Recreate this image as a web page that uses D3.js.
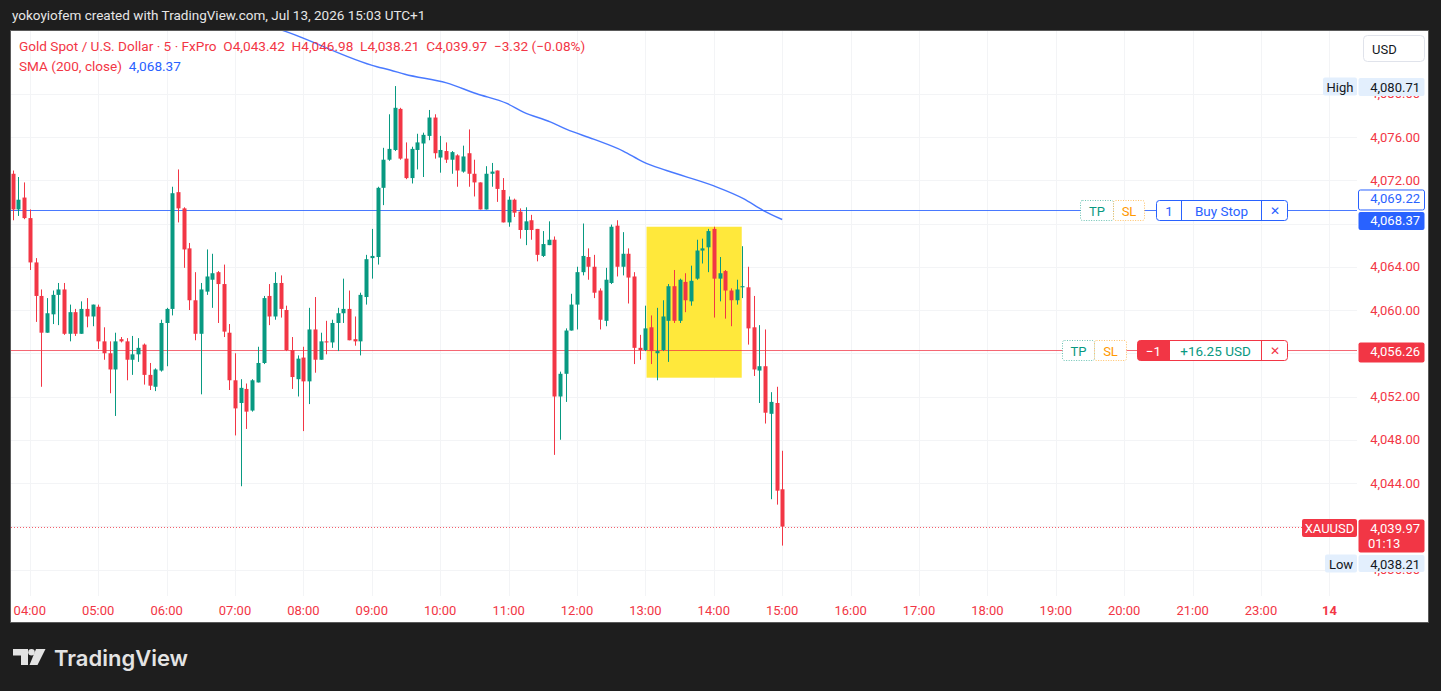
<!DOCTYPE html>
<html>
<head>
<meta charset="utf-8">
<script src="https://cdn.jsdelivr.net/npm/d3@7"></script>
<style>
  html, body { margin: 0; padding: 0; background: #1e1e1e; }
  svg { display: block; }
  text { font-family: Roboto, "Noto Sans", sans-serif; }
</style>
</head>
<body>
<svg id="chart" width="1441" height="691"></svg>
<script>
// XAUUSD 5 min bars, 03:45 -> 15:00 (one entry per bar)
const opens = [4072.6,4069.3,4070.4,4068.5,4064.4,4061.3,4057.9,4059.6,4061.4,4061.9,4057.8,4059.8,4057.8,4060.1,4059.4,4060.3,4057.1,4056.0,4054.5,4057.3,
  4057.1,4055.4,4055.9,4056.8,4054.0,4052.9,4054.4,4058.8,4060.1,4070.9,4069.4,4065.7,4060.9,4057.8,4061.7,4062.8,4063.5,4062.4,4057.9,4053.5,
  4051.4,4052.7,4050.7,4053.3,4055.1,4061.3,4059.4,4062.5,4060.0,4056.3,4053.6,4055.6,4053.4,4058.2,4055.4,4057.1,4057.0,4058.8,4059.7,4060.1,
  4057.3,4057.1,4061.2,4064.8,4064.9,4071.3,4073.9,4074.8,4078.6,4074.0,4072.2,4074.8,4075.4,4076.1,4077.8,4074.1,4074.7,4073.9,4074.3,4072.8,
  4074.5,4072.6,4071.8,4069.3,4072.6,4072.9,4071.1,4068.1,4070.2,4069.1,4067.4,4068.3,4067.5,4065.0,4066.0,4066.5,4052.0,4054.1,4058.1,4060.5,
  4063.5,4064.9,4064.0,4061.8,4059.0,4062.5,4067.8,4064.0,4065.2,4063.1,4056.5,4056.3,4058.4,4056.0,4056.3,4059.0,4062.2,4059.0,4062.6,4060.8,
  4062.9,4065.5,4065.8,4067.5,4062.9,4063.6,4061.8,4060.9,4062.1,4062.1,4058.4,4054.4,4054.8,4050.4,4051.4,4043.42];
const highs = [4072.9,4072.3,4071.8,4069.3,4064.8,4061.9,4061.1,4061.8,4062.5,4062.5,4060.5,4060.1,4060.8,4061.1,4060.5,4060.5,4058.4,4057.1,4057.9,4057.5,
  4057.4,4057.6,4057.4,4056.9,4055.1,4054.6,4059.1,4060.2,4071.4,4073.0,4069.5,4066.2,4063.5,4062.5,4065.6,4065.2,4063.6,4064.2,4058.7,4056.0,
  4053.6,4053.2,4053.6,4056.6,4061.3,4062.4,4063.5,4063.2,4060.4,4057.5,4055.8,4056.6,4060.2,4061.2,4057.9,4059.0,4059.1,4060.2,4062.9,4061.8,
  4059.4,4061.6,4065.1,4067.5,4071.4,4075.0,4078.1,4080.71,4078.7,4075.5,4075.1,4076.3,4076.4,4078.5,4078.1,4076.1,4075.5,4074.7,4074.4,4075.2,
  4076.7,4073.9,4071.8,4073.3,4073.6,4072.9,4072.2,4070.5,4070.3,4069.4,4069.5,4068.8,4067.5,4067.3,4068.2,4066.8,4054.3,4058.3,4061.5,4064.0,
  4068.0,4065.7,4065.1,4062.0,4063.9,4067.9,4068.3,4067.2,4065.7,4063.5,4057.7,4060.4,4059.5,4060.2,4060.9,4062.4,4063.7,4062.9,4063.4,4064.1,
  4066.5,4066.6,4067.5,4067.7,4064.9,4063.7,4062.0,4062.8,4065.9,4064.0,4061.3,4058.6,4058.2,4052.4,4052.9,4046.98];
const lows = [4068.3,4068.7,4068.4,4063.7,4058.9,4052.9,4057.9,4058.7,4058.6,4057.7,4057.1,4057.6,4057.8,4058.4,4058.5,4056.4,4055.4,4052.3,4050.2,4057.0,
  4053.5,4054.0,4055.2,4053.1,4052.6,4052.5,4054.3,4054.8,4059.5,4068.1,4063.9,4060.0,4057.2,4052.2,4061.4,4060.2,4058.8,4057.5,4052.6,4048.4,
  4043.7,4049.0,4050.6,4053.3,4055.0,4058.6,4059.1,4059.3,4056.2,4052.7,4052.0,4048.8,4051.3,4054.2,4055.4,4055.9,4056.5,4056.2,4058.8,4057.2,
  4056.7,4055.8,4060.5,4062.9,4064.2,4069.7,4073.8,4074.7,4073.9,4072.1,4071.7,4073.0,4072.3,4075.7,4074.0,4072.7,4073.6,4072.6,4071.4,4072.7,
  4071.4,4070.5,4069.3,4069.3,4071.4,4070.0,4068.1,4067.7,4068.6,4066.6,4066.0,4066.5,4064.5,4064.9,4066.0,4046.6,4048.0,4051.5,4058.1,4058.2,
  4063.2,4062.8,4061.1,4058.2,4058.5,4062.4,4063.1,4063.2,4060.6,4055.0,4055.4,4056.2,4055.0,4053.5,4056.2,4055.2,4058.8,4058.8,4059.8,4060.4,
  4062.8,4064.3,4063.5,4059.3,4060.8,4059.2,4058.5,4060.5,4061.1,4056.8,4053.9,4051.4,4049.5,4042.5,4042.0,4038.21];
const closes = [4069.3,4070.2,4068.5,4064.4,4061.3,4057.9,4059.7,4061.4,4061.9,4057.8,4059.8,4057.8,4060.1,4059.4,4060.5,4057.1,4056.0,4054.5,4057.1,4057.1,
  4055.4,4055.9,4056.5,4054.0,4053.0,4054.5,4058.8,4060.1,4070.8,4069.4,4065.6,4060.9,4057.8,4061.9,4063.1,4063.4,4062.4,4058.0,4053.5,4050.9,
  4052.8,4050.6,4053.5,4055.1,4061.1,4059.4,4062.5,4060.1,4056.3,4053.8,4055.5,4053.4,4058.2,4055.4,4057.1,4057.0,4058.8,4059.7,4060.1,4057.2,
  4057.1,4061.4,4064.7,4065.0,4071.3,4073.9,4074.9,4078.7,4074.0,4072.2,4074.9,4075.5,4076.2,4077.8,4074.5,4074.8,4073.9,4074.6,4072.9,4074.2,
  4072.6,4071.8,4069.3,4072.6,4072.8,4071.2,4068.1,4070.2,4069.0,4067.4,4068.2,4067.4,4065.1,4066.1,4066.5,4052.0,4054.1,4058.1,4060.5,4063.5,
  4065.0,4064.0,4061.6,4059.1,4062.8,4067.7,4064.0,4065.2,4063.0,4056.5,4056.3,4058.3,4056.2,4056.2,4059.4,4062.2,4059.0,4062.8,4060.9,4062.7,
  4065.5,4065.7,4067.3,4062.9,4063.4,4061.8,4060.9,4061.9,4062.2,4058.3,4054.5,4054.8,4050.5,4051.5,4043.29,4039.97];

// SMA(200, close) at some bar positions
const smaBars = [40, 47.1, 63.9, 66.2, 68.8, 76.1, 81.4, 86.7, 89.6, 94.3, 97.2, 101.9, 107.1, 110.6, 114.7, 122.9, 128.2, 131.7, 135];
const smaValues = [4087.0, 4085.9, 4082.5, 4082.2, 4081.8, 4081.0, 4080.0, 4079.1, 4078.3, 4077.4, 4076.7, 4075.8, 4074.7, 4073.7, 4072.9, 4071.5, 4070.3, 4069.2, 4068.37];

const timeLabels = ["04:00","05:00","06:00","07:00","08:00","09:00","10:00","11:00","12:00","13:00","14:00",
  "15:00","16:00","17:00","18:00","19:00","20:00","21:00","23:00","14"];
const priceTicks = [4036, 4040, 4044, 4048, 4052, 4056, 4060, 4064, 4068, 4072, 4076, 4080];

const buyStopPrice = 4069.22;
const positionPrice = 4056.26;
const positionPnl = "+16.25 USD";
const sessionHigh = 4080.71;
const sessionLow = 4038.21;
const lastPrice = 4039.97;
const countdown = "01:13";
// highlighted zone: bars and prices
const zoneBars = [111.2, 127.9];
const zonePrices = [4053.74, 4067.7];

const RED = "#f23645", GREEN = "#089981", BLUE = "#2962ff";
const fmt = d3.format(",.2f");

var svg = d3.select("#chart");
var W = 1441, H = 691;
var panel = {left: 11, top: 31, right: 1429, bottom: 623};
var plotRight = 1357, plotBottom = 596;

// x is bar index, y is price
let x = d3.scaleLinear().domain([0, 135]).range([12.7, 782.2]);
let y = d3.scaleLinear().domain([4036, 4076]).range([569.5, 137]);

// top strip
svg.append("rect").attr("width", W).attr("height", H).attr("fill", "#1e1e1e");
svg.append("text")
    .attr("x", 12).attr("y", 20)
    .attr("fill", "#e6e6e6").style("font-size", "13.5px")
    .text("yokoyiofem created with TradingView.com, Jul 13, 2026 15:03 UTC+1");

// white chart panel
svg.append("rect")
    .attr("x", panel.left - 0.5).attr("y", panel.top - 0.5)
    .attr("width", panel.right - panel.left).attr("height", panel.bottom - panel.top)
    .attr("fill", "#fff").attr("stroke", "#5a5a5a");

svg.append("defs").append("clipPath").attr("id", "clip")
    .append("rect")
    .attr("x", panel.left).attr("y", panel.top)
    .attr("width", plotRight - panel.left).attr("height", plotBottom - panel.top);

let plot = svg.append("g").attr("clip-path", "url(#clip)");

// faint grid
plot.selectAll(".hgrid").data(priceTicks).enter().append("line")
    .attr("x1", panel.left).attr("x2", plotRight)
    .attr("y1", d => Math.round(y(d)) + 0.5).attr("y2", d => Math.round(y(d)) + 0.5)
    .attr("stroke", "#f3f4f6");
plot.selectAll(".vgrid").data(timeLabels).enter().append("line")
    .attr("x1", (d, i) => Math.round(x(3 + 12 * i)) + 0.5).attr("x2", (d, i) => Math.round(x(3 + 12 * i)) + 0.5)
    .attr("y1", panel.top).attr("y2", plotBottom)
    .attr("stroke", "#f3f4f6");

// yellow highlight box
plot.append("rect")
    .attr("x", x(zoneBars[0])).attr("y", y(zonePrices[1]))
    .attr("width", x(zoneBars[1]) - x(zoneBars[0]))
    .attr("height", y(zonePrices[0]) - y(zonePrices[1]))
    .attr("fill", "#ffe83b");

// order / position lines
plot.append("line")
    .attr("x1", panel.left).attr("x2", plotRight)
    .attr("y1", Math.round(y(buyStopPrice)) + 0.5).attr("y2", Math.round(y(buyStopPrice)) + 0.5)
    .attr("stroke", BLUE).attr("stroke-opacity", 0.85);
plot.append("line")
    .attr("x1", panel.left).attr("x2", plotRight)
    .attr("y1", Math.round(y(positionPrice)) + 0.5).attr("y2", Math.round(y(positionPrice)) + 0.5)
    .attr("stroke", RED).attr("stroke-opacity", 0.75);
plot.append("line")
    .attr("x1", panel.left).attr("x2", 1302)
    .attr("y1", Math.round(y(lastPrice)) + 0.5).attr("y2", Math.round(y(lastPrice)) + 0.5)
    .attr("stroke", RED).attr("stroke-dasharray", "1,2").attr("stroke-opacity", 0.8);

// candles
let bars = d3.range(opens.length);
let candle = plot.selectAll(".candle").data(bars).enter().append("g")
    .attr("fill", i => closes[i] >= opens[i] ? GREEN : RED)
    .attr("stroke", i => closes[i] >= opens[i] ? GREEN : RED);
candle.append("line")
    .attr("x1", i => Math.round(x(i)) + 0.5).attr("x2", i => Math.round(x(i)) + 0.5)
    .attr("y1", i => y(highs[i])).attr("y2", i => y(lows[i]))
    .attr("stroke-width", 1);
candle.append("rect")
    .attr("x", i => Math.round(x(i)) - 1.5)
    .attr("y", i => y(Math.max(opens[i], closes[i])))
    .attr("width", 4)
    .attr("height", i => Math.max(1, Math.abs(y(opens[i]) - y(closes[i]))))
    .attr("stroke", "none");

// SMA line
let smaLine = d3.line().x(d => x(d[0])).y(d => y(d[1])).curve(d3.curveMonotoneX);
plot.append("path")
    .datum(smaBars.map((b, i) => [b, smaValues[i]]))
    .attr("d", smaLine)
    .attr("fill", "none").attr("stroke", BLUE).attr("stroke-width", 1.4).attr("stroke-opacity", 0.85);

// legend
let legend = svg.append("g").style("font-size", "13.6px");
legend.append("text").attr("x", 19).attr("y", 51).attr("fill", RED)
    .attr("xml:space", "preserve")
    .text("Gold Spot / U.S. Dollar \u00b7 5 \u00b7 FxPro  O" + fmt(opens[135]) + "  H" + fmt(highs[135]) +
        "  L" + fmt(lows[135]) + "  C" + fmt(closes[135]) + "  \u22123.32 (\u22120.08%)");
let smaText = legend.append("text").attr("x", 19).attr("y", 71).attr("xml:space", "preserve");
smaText.append("tspan").attr("fill", RED).text("SMA (200, close)  ");
smaText.append("tspan").attr("fill", BLUE).text(fmt(smaValues[smaValues.length - 1]));

// order widgets on the lines
function orderWidget(cy, color, tp, sl, box, parts) {
    let g = svg.append("g").style("font-size", "13px");
    let h = 20, top = Math.round(cy) - 9.5;
    [[tp, "TP", GREEN], [sl, "SL", "#ff9800"]].forEach(function (t) {
        g.append("rect").attr("x", t[0][0] + 0.5).attr("y", top).attr("width", t[0][1] - t[0][0]).attr("height", h)
            .attr("rx", 2).attr("fill", "#fff").attr("stroke", t[2]).attr("stroke-opacity", 0.6)
            .attr("stroke-dasharray", "1,1.5");
        g.append("text").attr("x", (t[0][0] + t[0][1]) / 2 + 0.5).attr("y", top + h / 2 + 0.5)
            .attr("text-anchor", "middle").attr("dominant-baseline", "central")
            .attr("fill", t[2]).text(t[1]);
    });
    g.append("rect").attr("x", box[0] + 0.5).attr("y", top).attr("width", box[1] - box[0]).attr("height", h)
        .attr("rx", 3).attr("fill", "#fff").attr("stroke", color);
    parts.forEach(function (p, k) {
        if (p.fill) {
            g.append("path")
                .attr("d", "M" + (p.x0 + 3.5) + "," + top + "H" + p.x1 + "V" + (top + h) + "H" + (p.x0 + 3.5) +
                    "Q" + (p.x0 + 0.5) + "," + (top + h) + " " + (p.x0 + 0.5) + "," + (top + h - 3) +
                    "V" + (top + 3) + "Q" + (p.x0 + 0.5) + "," + top + " " + (p.x0 + 3.5) + "," + top + "Z")
                .attr("fill", p.fill);
        }
        if (k > 0) {
            g.append("line").attr("x1", p.x0 + 0.5).attr("x2", p.x0 + 0.5)
                .attr("y1", top).attr("y2", top + h).attr("stroke", color);
        }
        g.append("text").attr("x", (p.x0 + p.x1) / 2 + 0.5).attr("y", top + h / 2 + 0.5)
            .attr("text-anchor", "middle").attr("dominant-baseline", "central")
            .attr("fill", p.color).style("font-size", p.size || "13.5px").text(p.text);
    });
}

orderWidget(y(buyStopPrice), BLUE, [1080, 1113], [1113, 1144], [1156, 1287], [
    {x0: 1156, x1: 1181, text: "1", color: BLUE},
    {x0: 1181, x1: 1261, text: "Buy Stop", color: BLUE},
    {x0: 1261, x1: 1287, text: "\u2715", color: BLUE, size: "12px"}
]);
orderWidget(y(positionPrice), RED, [1062, 1094], [1094, 1126], [1137, 1287], [
    {x0: 1137, x1: 1169, text: "\u22121", color: "#fff", fill: RED},
    {x0: 1169, x1: 1261, text: positionPnl, color: GREEN},
    {x0: 1261, x1: 1287, text: "\u2715", color: RED, size: "12px"}
]);

// price scale (ticks hidden under the value boxes are skipped)
let axisX = 1420;
let hidden = [4040, 4056, 4068];
svg.append("g").selectAll("text").data(priceTicks.filter(d => hidden.indexOf(d) < 0)).enter().append("text")
    .attr("x", axisX).attr("y", d => y(d))
    .attr("text-anchor", "end").attr("dominant-baseline", "central")
    .attr("fill", RED).style("font-size", "13px")
    .text(d => fmt(d));

function priceBox(top, txt, bg, fg, stroke, tag, tagX, h) {
    h = h || 19;
    let g = svg.append("g").style("font-size", "13px");
    if (tag) {
        g.append("rect").attr("x", tagX).attr("y", top).attr("width", 1357 - tagX).attr("height", 18)
            .attr("rx", 2).attr("fill", bg === RED ? RED : "#e3effd");
        g.append("text").attr("x", (tagX + 1357) / 2).attr("y", top + 9.5)
            .attr("text-anchor", "middle").attr("dominant-baseline", "central")
            .attr("fill", bg === RED ? "#fff" : "#131722").text(tag);
    }
    g.append("rect").attr("x", 1358.5).attr("y", top + 0.5).attr("width", 66).attr("height", h - 1)
        .attr("rx", 2).attr("fill", bg).attr("stroke", stroke || "none");
    g.append("text").attr("x", axisX).attr("y", top + 9.5)
        .attr("text-anchor", "end").attr("dominant-baseline", "central")
        .attr("fill", fg).text(txt);
    return g;
}

// USD button
svg.append("rect").attr("x", 1363.5).attr("y", 35.5).attr("width", 61).attr("height", 26)
    .attr("rx", 4).attr("fill", "#fff").attr("stroke", "#e0e3eb");
svg.append("text").attr("x", 1372).attr("y", 49).attr("dominant-baseline", "central")
    .attr("fill", "#131722").style("font-size", "13px").text("USD");

priceBox(y(sessionHigh) - 8.5, fmt(sessionHigh), "#e3effd", "#131722", null, "High", 1323);
let smaTop = y(smaValues[smaValues.length - 1]) - 8;
priceBox(smaTop, fmt(smaValues[smaValues.length - 1]), BLUE, "#fff");
priceBox(smaTop - 22, fmt(buyStopPrice), "#fff", BLUE, BLUE, null, null, 21);
priceBox(y(positionPrice) - 8.5, fmt(positionPrice), RED, "#fff", null, null, null, 21);
let lastTop = y(lastPrice) - 7.5;
let last = priceBox(lastTop, fmt(lastPrice), RED, "#fff", null, "XAUUSD", 1302, 34);
last.append("text").attr("x", 1368).attr("y", lastTop + 24.5)
    .attr("dominant-baseline", "central").attr("fill", "#fff").style("font-size", "13px").text(countdown);
priceBox(lastTop + 35.5, fmt(sessionLow), "#e3effd", "#131722", null, "Low", 1325, 18);

// time axis
svg.append("g").selectAll("text").data(timeLabels).enter().append("text")
    .attr("x", (d, i) => x(3 + 12 * i)).attr("y", 610)
    .attr("text-anchor", "middle").attr("dominant-baseline", "central")
    .attr("fill", RED).style("font-size", "13px")
    .style("font-weight", d => d.length < 3 ? 700 : 400)
    .text(d => d);

// TradingView logo
let logo = svg.append("g").attr("fill", "#e3e3e3");
logo.append("path").attr("d", "M13,649H28V665H21V655.5H13Z");
logo.append("circle").attr("cx", 31.5).attr("cy", 652.3).attr("r", 3.3);
logo.append("path").attr("d", "M36,649H45.5L37.5,665H29.5Z");
logo.append("text").attr("x", 54).attr("y", 666)
    .style("font-family", "Inter, Lato, sans-serif").style("font-weight", 600).style("font-size", "22px")
    .attr("fill", "#e3e3e3").text("TradingView");
</script>
</body>
</html>
